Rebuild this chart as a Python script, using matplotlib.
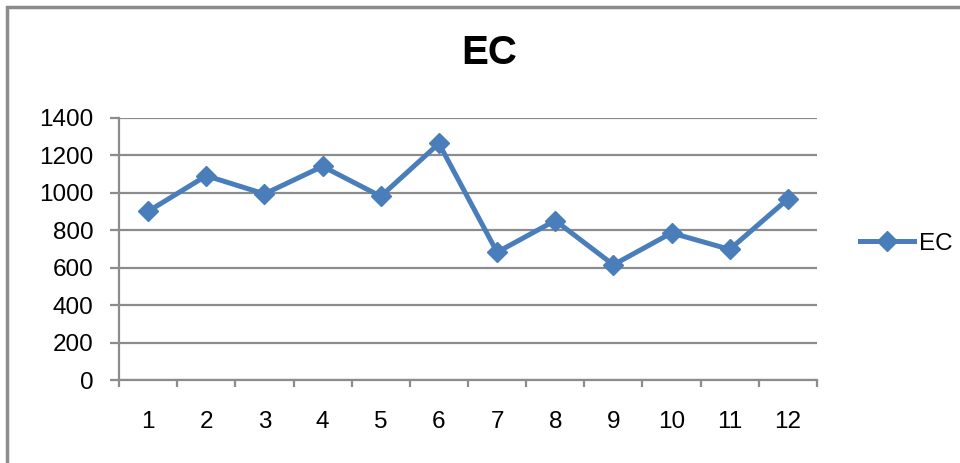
import matplotlib
matplotlib.use("Agg")
import matplotlib.pyplot as plt
from matplotlib.patches import Rectangle

plt.rcParams['font.family'] = ['Liberation Sans', 'DejaVu Sans']

categories = ['1', '2', '3', '4', '5', '6', '7', '8', '9', '10', '11', '12']
ec_values = [900, 1090, 993, 1140, 980, 1262, 682, 851, 615, 785, 697, 966]
y_ticks = [0, 200, 400, 600, 800, 1000, 1200, 1400]

line_color = '#4a7ebb'
grid_color = '#8c8c8c'

fig = plt.figure(figsize=(9.6, 4.63), dpi=100)
ax = fig.add_axes([0.124, 0.179, 0.727, 0.567])

x = list(range(len(categories)))
ax.plot(x, ec_values, color=line_color, lw=3.6, marker='D', ms=10.5,
        markeredgecolor=line_color, markerfacecolor=line_color, label='EC',
        clip_on=False, zorder=3)

ax.set_xlim(-0.5, len(categories) - 0.5)
ax.set_ylim(0, 1400)
ax.set_yticks(y_ticks)
ax.set_yticklabels([str(v) for v in y_ticks])
ax.set_xticks(x)
ax.set_xticklabels(categories)
ax.set_xticks([i - 0.5 for i in range(len(categories) + 1)], minor=True)

ax.yaxis.grid(True, color=grid_color, lw=1.6)
ax.set_axisbelow(True)
for s in ['top', 'right']:
    ax.spines[s].set_visible(False)
for s in ['left', 'bottom']:
    ax.spines[s].set_color(grid_color)
    ax.spines[s].set_linewidth(1.6)

ax.tick_params(axis='y', length=6.5, width=1.6, color=grid_color, pad=12,
               labelsize=17.5)
ax.tick_params(axis='x', which='major', length=0, pad=22, labelsize=17.5)
ax.tick_params(axis='x', which='minor', length=5, width=1.6, color=grid_color,
               direction='out')

fig.text(0.51, 0.885, 'EC', ha='center', va='center', fontsize=29,
         fontweight='bold')

ax.legend(loc='center left', bbox_to_anchor=(1.03, 0.52), frameon=False,
          fontsize=17.5, handlelength=2.25, handletextpad=0.2)

# chart frame
fig.patches.append(Rectangle((7 / 960, -0.1), 1.2, 1.1 - 7 / 463,
                             transform=fig.transFigure, fill=False,
                             edgecolor='#8c8c8c', lw=2.5))

fig.savefig('out.png', dpi=100)
